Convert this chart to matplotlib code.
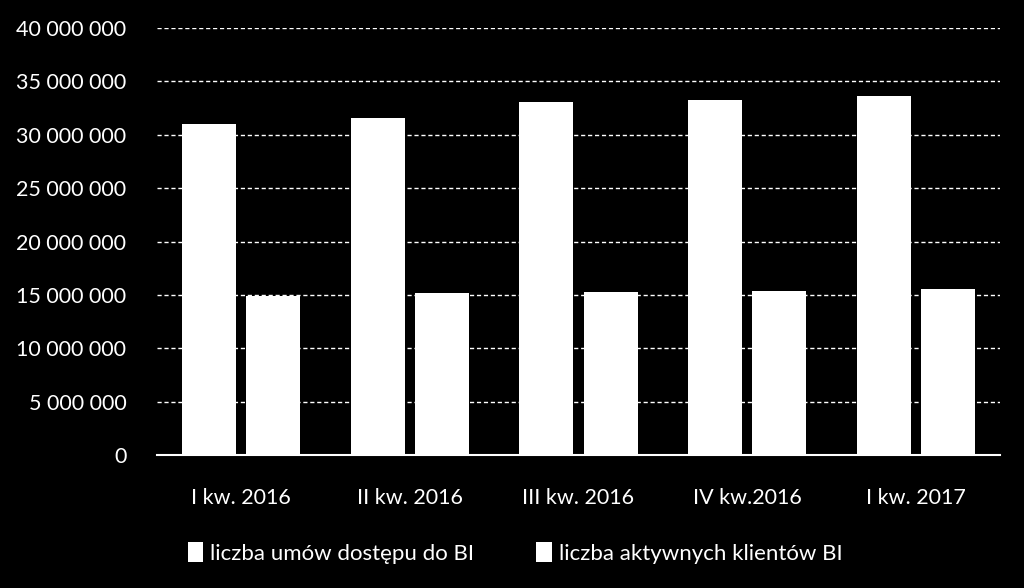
import matplotlib.pyplot as plt
import numpy as np
from matplotlib import font_manager

# font: Calibri-like condensed look
names = {f.name for f in font_manager.fontManager.ttflist}
fam = 'Liberation Sans Narrow' if 'Liberation Sans Narrow' in names else 'Lato'
plt.rcParams['font.family'] = [fam, 'DejaVu Sans']

kwartaly = ['I kw. 2016', 'II kw. 2016', 'III kw. 2016', 'IV kw.2016', 'I kw. 2017']
umowy = [30980000, 31600000, 33100000, 33280000, 33660000]
klienci = [14920000, 15150000, 15240000, 15330000, 15580000]
yticks = [0, 5000000, 10000000, 15000000, 20000000, 25000000, 30000000, 35000000, 40000000]

fig = plt.figure(figsize=(10.24, 5.88), dpi=100, facecolor='black')
ax = fig.add_axes([157/1024, 1-455/588, (1000-157)/1024, (455-28)/588])
ax.set_facecolor('black')

x = np.arange(len(kwartaly))
ax.bar(x - 0.19, umowy, width=0.32, color='white', label='liczba umów dostępu do BI', zorder=3)
ax.bar(x + 0.19, klienci, width=0.32, color='white', label='liczba aktywnych klientów BI', zorder=3)

ax.set_xlim(-0.5, 4.5)
ax.set_ylim(0, 40000000)
ax.set_yticks(yticks)
ax.set_yticklabels([f'{v:,}'.replace(',', ' ') for v in yticks])
ax.set_xticks(x)
ax.set_xticklabels(kwartaly)
ax.tick_params(colors='white', labelsize=15.5, length=0)
ax.tick_params(axis='y', pad=22)
ax.tick_params(axis='x', pad=24)
for t in ax.get_yticklabels() + ax.get_xticklabels():
    t.set_color('white')

for s in ['top', 'right', 'left']:
    ax.spines[s].set_visible(False)
ax.spines['bottom'].set_color('white')
ax.spines['bottom'].set_linewidth(1.5)
ax.grid(axis='y', color='white', linestyle=(0, (3, 2)), linewidth=1, zorder=1)

leg = fig.legend(loc='center', bbox_to_anchor=(515/1024, 1-553/588), ncol=2, frameon=False,
                 fontsize=16, handlelength=0.7, handleheight=1.0, handletextpad=0.3,
                 columnspacing=2.8, labelcolor='white')

fig.savefig('out.png', dpi=100, facecolor='black')
